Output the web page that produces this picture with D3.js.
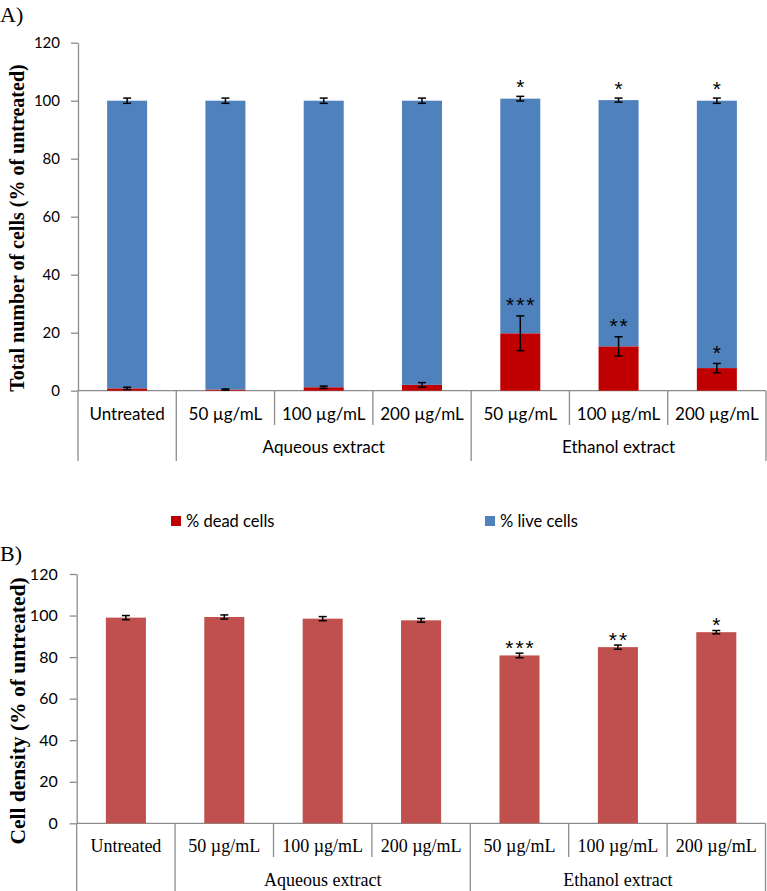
<!DOCTYPE html>
<html>
<head>
<meta charset="utf-8">
<script src="https://cdn.jsdelivr.net/npm/d3@7"></script>
<style>
  html, body { margin: 0; padding: 0; background: #fff; }
  svg { display: block; }
</style>
</head>
<body>
<svg id="chart" width="767" height="891"></svg>
<script>
// ---------- Data ----------
const categories = ["Untreated", "50 µg/mL", "100 µg/mL", "200 µg/mL", "50 µg/mL", "100 µg/mL", "200 µg/mL"];
const groups = [
  { label: "", start: 0, end: 1 },
  { label: "Aqueous extract", start: 1, end: 4 },
  { label: "Ethanol extract", start: 4, end: 7 }
];
const yTicks = [0, 20, 40, 60, 80, 100, 120];

// Panel A (stacked): % dead cells + % live cells = total
const deadValues = [0.8, 0.4, 1.2, 2.0, 19.8, 15.3, 7.8];
const deadErrors = [0.4, 0.2, 0.4, 0.8, 6.0, 3.3, 1.6];
const totalValues = [100.0, 100.0, 100.0, 100.0, 100.7, 100.2, 100.0];
const liveValues = totalValues.map((t, i) => t - deadValues[i]);
const totalErrors = [0.9, 0.9, 0.9, 0.9, 0.8, 0.7, 0.9];
const starsTotal = ["", "", "", "", "*", "*", "*"];
const starsDead = ["", "", "", "", "***", "**", "*"];

// Panel B: cell density
const densityValues = [99.0, 99.3, 98.5, 97.7, 80.8, 84.8, 92.0];
const densityErrors = [1.0, 1.0, 1.0, 0.9, 1.1, 1.0, 0.8];
const starsDensity = ["", "", "", "", "***", "**", "*"];

const legendLabels = ["% dead cells", "% live cells"];

// ---------- Styles ----------
const colDead = "#C00000", colLive = "#4F81BD", colDensity = "#C0504D";
const axisCol = "#8C8C8C";
const sans = "Lato, 'Open Sans', sans-serif";
const serif = "'Liberation Serif', 'Times New Roman', serif";
const starFont = "'Liberation Sans', Arial, sans-serif";

const svg = d3.select("#chart");

function drawPanel(opts) {
  const g = svg.append("g");
  const x = d3.scaleBand().domain(d3.range(categories.length))
    .range([opts.left, opts.right]).paddingInner(0.593).paddingOuter(0.2965);
  const y = d3.scaleLinear().domain([0, 120]).range([opts.bottom, opts.top]);

  // y axis
  const yAxis = g.append("g").attr("transform", `translate(${opts.left},0)`)
    .call(d3.axisLeft(y).tickValues(yTicks).tickSize(7).tickPadding(opts.tickPad).tickSizeOuter(0));
  yAxis.select(".domain").attr("stroke", axisCol).attr("stroke-width", 1.3);
  yAxis.selectAll(".tick line").attr("stroke", axisCol).attr("stroke-width", 1.3);
  yAxis.selectAll(".tick text").attr("font-family", sans).attr("font-size", opts.tickFont)
    .attr("fill", "#000");

  // x axis baseline
  g.append("line").attr("x1", opts.left).attr("x2", opts.right)
    .attr("y1", y(0)).attr("y2", y(0)).attr("stroke", axisCol).attr("stroke-width", 1.3);

  const step = x.step();
  // category separators
  const groupBounds = new Set(groups.map(d => d.start).concat(groups.map(d => d.end)));
  for (let i = 0; i <= categories.length; i++) {
    const xx = opts.left + i * step;
    const isGroup = groupBounds.has(i);
    g.append("line").attr("x1", xx).attr("x2", xx)
      .attr("y1", y(0)).attr("y2", isGroup ? opts.groupLineEnd : opts.catLineEnd)
      .attr("stroke", axisCol).attr("stroke-width", 1.3);
  }
  // category labels
  g.selectAll(".cat").data(categories).join("text")
    .attr("x", (d, i) => x(i) + x.bandwidth() / 2)
    .attr("y", opts.catY)
    .attr("text-anchor", "middle")
    .attr("font-family", opts.catFont).attr("font-size", opts.catSize)
    .text(d => d);
  // group labels
  g.selectAll(".grp").data(groups.filter(d => d.label)).join("text")
    .attr("x", d => opts.left + (d.start + d.end) / 2 * step)
    .attr("y", opts.groupY)
    .attr("text-anchor", "middle")
    .attr("font-family", opts.catFont).attr("font-size", opts.catSize)
    .text(d => d.label);

  // y title
  g.append("text")
    .attr("transform", `translate(${opts.titleX},${opts.titleY}) rotate(-90)`)
    .attr("text-anchor", "middle")
    .attr("font-family", serif).attr("font-weight", "bold").attr("font-size", opts.titleSize)
    .text(opts.title);

  // panel letter
  g.append("text").attr("x", 0).attr("y", opts.letterY)
    .attr("font-family", serif).attr("font-size", 22).text(opts.letter);

  return { g, x, y };
}

function errorBars(g, x, y, tops, errs) {
  const cap = 4;
  tops.forEach((v, i) => {
    const cx = x(i) + x.bandwidth() / 2;
    const y1 = y(v + errs[i]), y2 = y(v - errs[i]);
    g.append("line").attr("x1", cx).attr("x2", cx).attr("y1", y1).attr("y2", y2)
      .attr("stroke", "#000").attr("stroke-width", 1.5);
    [y1, y2].forEach(yy => g.append("line").attr("x1", cx - cap).attr("x2", cx + cap)
      .attr("y1", yy).attr("y2", yy).attr("stroke", "#000").attr("stroke-width", 1.5));
  });
}

function stars(g, x, y, tops, errs, labels, offset) {
  labels.forEach((s, i) => {
    if (!s) return;
    const ls = 2;
    g.append("text")
      .attr("x", x(i) + x.bandwidth() / 2 + ls / 2)
      .attr("y", y(tops[i] + errs[i]) - offset)
      .attr("text-anchor", "middle")
      .attr("font-family", starFont).attr("font-size", 21)
      .attr("letter-spacing", ls)
      .text(s);
  });
}

// ---------- Panel A ----------
const A = drawPanel({
  left: 78, right: 766, top: 42.7, bottom: 390.7,
  tickPad: 11, tickFont: 15,
  catLineEnd: 425, groupLineEnd: 461, catY: 420, groupY: 453,
  catFont: sans, catSize: 17,
  title: "Total number of cells (% of untreated)", titleSize: 20, titleX: 24, titleY: 228,
  letter: "A)", letterY: 22
});
// stacked bars
const stackData = categories.map((c, i) => ({ i, dead: deadValues[i], live: liveValues[i] }));
const stacked = d3.stack().keys(["dead", "live"])(stackData);
const stackColors = { dead: colDead, live: colLive };
A.g.selectAll(".layer").data(stacked).join("g")
  .attr("fill", d => stackColors[d.key])
  .selectAll("rect").data(d => d).join("rect")
  .attr("x", d => A.x(d.data.i))
  .attr("width", A.x.bandwidth())
  .attr("y", d => A.y(d[1]))
  .attr("height", d => A.y(d[0]) - A.y(d[1]));
errorBars(A.g, A.x, A.y, totalValues, totalErrors);
errorBars(A.g, A.x, A.y, deadValues, deadErrors);
stars(A.g, A.x, A.y, totalValues, totalErrors, starsTotal, 2.5);
stars(A.g, A.x, A.y, deadValues, deadErrors, starsDead, 3.5);

// legend
const legendX = [171, 485];
legendLabels.forEach((lab, k) => {
  svg.append("rect").attr("x", legendX[k]).attr("y", 516).attr("width", 10).attr("height", 10)
    .attr("fill", k === 0 ? colDead : colLive);
  svg.append("text").attr("x", legendX[k] + 15).attr("y", 527)
    .attr("font-family", sans).attr("font-size", 16.5).text(lab);
});

// ---------- Panel B ----------
const B = drawPanel({
  left: 76.7, right: 765.5, top: 574, bottom: 823.3,
  tickPad: 12, tickFont: 16,
  catLineEnd: 857, groupLineEnd: 891, catY: 852, groupY: 886,
  catFont: serif, catSize: 18,
  title: "Cell density (% of untreated)", titleSize: 21.5, titleX: 25, titleY: 711,
  letter: "B)", letterY: 561
});
B.g.selectAll(".bar").data(densityValues).join("rect")
  .attr("x", (d, i) => B.x(i))
  .attr("width", B.x.bandwidth())
  .attr("y", d => B.y(d))
  .attr("height", d => B.y(0) - B.y(d))
  .attr("fill", colDensity);
errorBars(B.g, B.x, B.y, densityValues, densityErrors);
stars(B.g, B.x, B.y, densityValues, densityErrors, starsDensity, -1.5);
</script>
</body>
</html>
